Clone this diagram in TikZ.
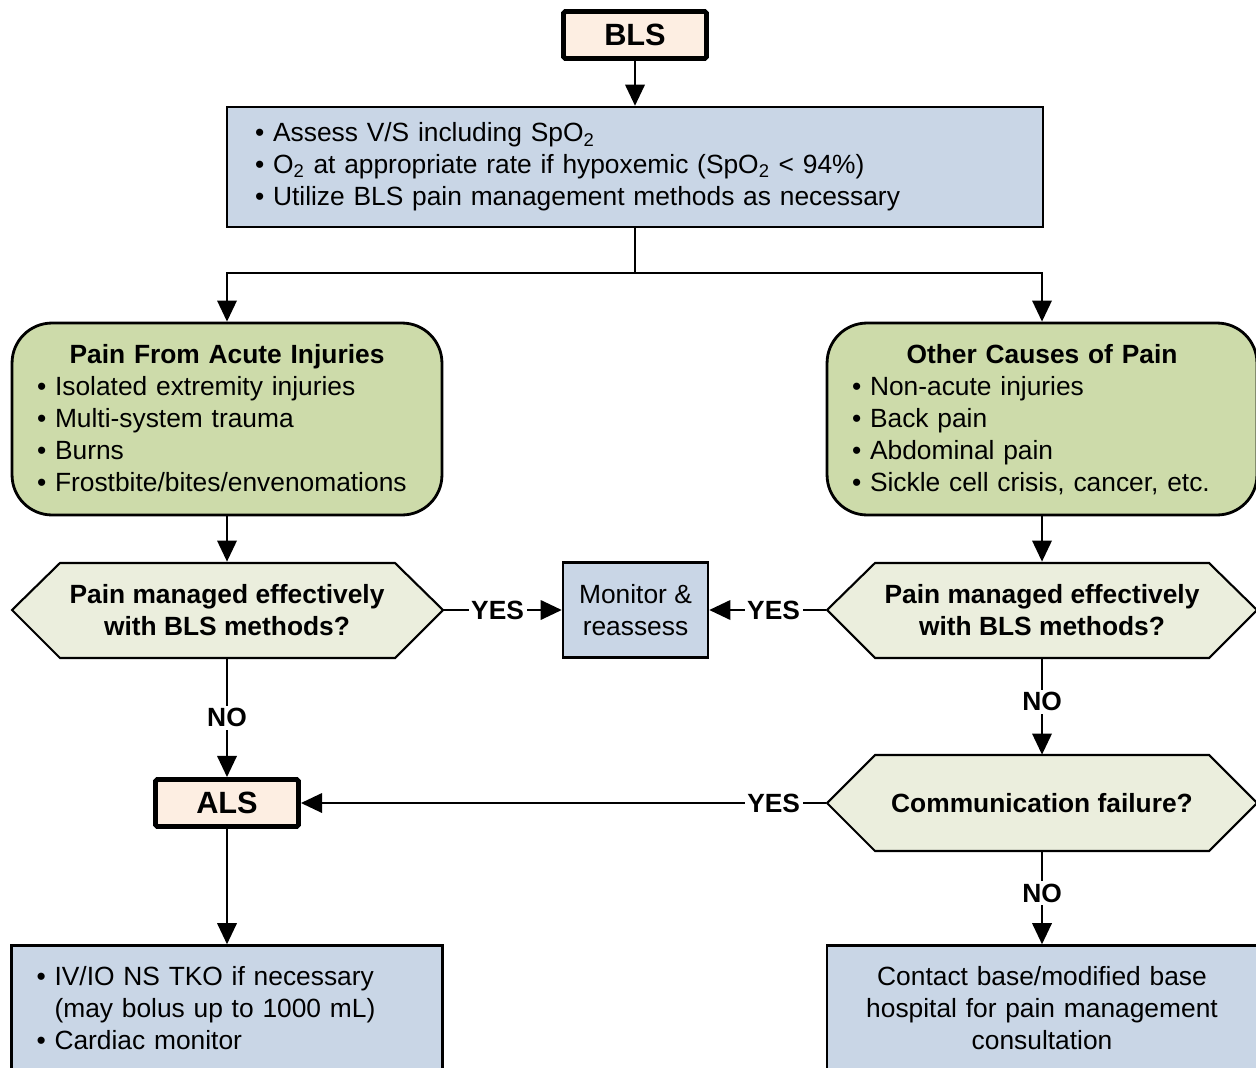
\documentclass[tikz,border=0pt]{standalone}
\usepackage{fontspec}
\setmainfont{Liberation Sans}
\usetikzlibrary{arrows.meta,calc}

\definecolor{levelfill}{RGB}{253,238,226}
\definecolor{stepblue}{RGB}{201,214,230}
\definecolor{causegreen}{RGB}{205,219,170}
\definecolor{askfill}{RGB}{235,238,221}

\begin{document}
\begin{tikzpicture}[x=0.02cm, y=-0.02cm,
  font=\fontsize{15}{18.2}\selectfont,
  levelbox/.style={draw=black, line width=2.8pt, fill=levelfill, rounded corners=1pt,
    minimum width=2.86cm, minimum height=0.94cm, font=\fontsize{17.5}{20}\selectfont\bfseries},
  stepbox/.style={draw=black, line width=1.4pt, fill=stepblue, inner sep=0pt},
  causebox/.style={draw=black, line width=1.6pt, fill=causegreen, rounded corners=0.8cm,
    minimum width=8.6cm, minimum height=3.84cm, text width=7.6cm, align=left, inner sep=0pt},
  askbox/.style={minimum width=8.62cm, minimum height=1.92cm, inner sep=0pt, align=center,
    font=\fontsize{15}{18.2}\selectfont\bfseries},
  hexpath/.style={draw=black, line width=1.2pt, fill=askfill},
  link/.style={line width=1.4pt},
  arr/.style={line width=1.4pt, -{Triangle[length=12pt, width=11pt]}},
  answer/.style={fill=white, inner sep=1.5pt, font=\fontsize{15}{18.2}\selectfont\bfseries}]

 \useasboundingbox (0,0) rectangle (1256,1067);

 % BLS level and first step
 \node[levelbox] (bls) at (635,35) {BLS};
 \node[stepbox, minimum width=16.32cm, minimum height=2.4cm, text width=15.2cm, align=left] (assess) at (635,167)
  {\textbullet\ Assess V/S including SpO\textsubscript{2}\\
   \textbullet\ O\textsubscript{2} at appropriate rate if hypoxemic (SpO\textsubscript{2} < 94\%)\\
   \textbullet\ Utilize BLS pain management methods as necessary};

 % the two causes
 \node[causebox] (acute) at (227,419)
  {\centerline{\rule{0pt}{15.5pt}\bfseries Pain From Acute Injuries}
   \textbullet\ Isolated extremity injuries\\
   \textbullet\ Multi-system trauma\\
   \textbullet\ Burns\\
   \textbullet\ Frostbite/bites/envenomations\strut};
 \node[causebox] (other) at (1042,419)
  {\centerline{\rule{0pt}{15.5pt}\bfseries Other Causes of Pain}
   \textbullet\ Non-acute injuries\\
   \textbullet\ Back pain\\
   \textbullet\ Abdominal pain\\
   \textbullet\ Sickle cell crisis, cancer, etc.\strut};

 % questions
 \filldraw[hexpath] (12,610) -- (60,563) -- (395,563) -- (443,610) -- (395,658) -- (60,658) -- cycle;
 \node[askbox] (askA) at (227,610) {Pain managed effectively\\with BLS methods?};
 \filldraw[hexpath] (827,610) -- (875,563) -- (1209,563) -- (1257,610) -- (1209,658) -- (875,658) -- cycle;
 \node[askbox] (askB) at (1042,610) {Pain managed effectively\\with BLS methods?};
 \filldraw[hexpath] (827,803) -- (875,755) -- (1209,755) -- (1257,803) -- (1209,851) -- (875,851) -- cycle;
 \node[askbox] (comm) at (1042,803) {Communication failure?};

 \node[stepbox, minimum width=2.9cm, minimum height=1.9cm, align=center] (monitor) at (635.5,610) {Monitor \&\\reassess};

 % ALS
 \node[levelbox] (als) at (227,803) {ALS};
 \node[stepbox, minimum width=8.62cm, minimum height=2.5cm, text width=7.62cm, align=left] (fluids) at (227,1008)
  {\textbullet\ IV/IO NS TKO if necessary\\
   \hphantom{\textbullet\ }(may bolus up to 1000 mL)\\
   \textbullet\ Cardiac monitor};
 \node[stepbox, minimum width=8.6cm, minimum height=2.5cm, text width=7.6cm, align=center] (contact) at (1042,1008)
  {Contact base/modified base\\hospital for pain management\\consultation};

 % connectors
 \coordinate (fork) at (635,273);
 \draw[arr] (bls) -- (assess);
 \draw[link] (assess) -- (fork);
 \draw[arr] (fork) -| (acute);
 \draw[arr] (fork) -| (other);
 \draw[arr] (acute) -- (askA);
 \draw[arr] (other) -- (askB);
 \draw[arr] (askA) -- node[answer, pos=0.46] (yesA) {YES} (monitor);
 \draw[arr] (askB) -- node[answer, pos=0.45] (yesB) {YES} (monitor);
 \draw[arr] (askA) -- node[answer] (noA) {NO} (als);
 \draw[arr] (askB) -- node[answer, pos=0.45] (noB) {NO} (comm);
 \draw[arr] (comm) -- node[answer, pos=0.1] (yesC) {YES} (als);
 \draw[arr] (als) -- (fluids);
 \draw[arr] (comm) -- node[answer, pos=0.45] (noC) {NO} (contact);

\end{tikzpicture}
\end{document}
